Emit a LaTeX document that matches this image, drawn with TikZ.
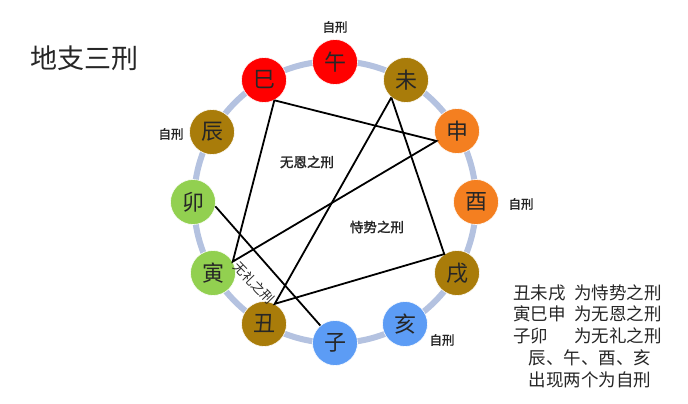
\documentclass[tikz,border=0pt]{standalone}
\usepackage{fontspec}
\newfontfamily\cjk{Noto Sans CJK SC}
\newfontfamily\cjkb[FakeBold=1.8]{Noto Sans CJK SC}
\definecolor{cred}{HTML}{FF0000}
\definecolor{cgold}{HTML}{A97C0A}
\definecolor{corange}{HTML}{F47F20}
\definecolor{cgreen}{HTML}{92D050}
\definecolor{cblue}{HTML}{5C9CF5}
\definecolor{cring}{HTML}{B4C2E0}
\begin{document}
\begin{tikzpicture}[x=1pt,y=-1pt,
  br/.style={circle,minimum size=45pt,inner sep=0pt,draw=white,line width=0.6pt,font=\cjk\fontsize{22}{22}\selectfont,text=black!85},
  ring/.style={draw=cring,line width=6pt},
  link/.style={draw=black,line width=1.8pt},
  lab/.style={font=\cjkb\fontsize{12.5}{12.5}\selectfont,text=black!85,inner sep=0pt},
  ilab/.style={font=\cjkb\fontsize{13.5}{13.5}\selectfont,text=black!85,inner sep=0pt},
  rtext/.style={font=\cjk\fontsize{17.5}{17.5}\selectfont,text=black!85,inner sep=0pt,anchor=west}]
\useasboundingbox (0,0) rectangle (688,404);
\fill[white] (0,0) rectangle (688,404);
\coordinate (c) at (335,202);
\draw[ring] (c) circle (141);
\node[br,fill=cred] (wu) at (335,62) {午};
\node[br,fill=cgold] (wei) at (406,80) {未};
\node[br,fill=corange] (shen) at (457,131) {申};
\node[br,fill=corange] (you) at (476,202) {酉};
\node[br,fill=cgold] (xu) at (457,273) {戌};
\node[br,fill=cblue] (hai) at (405,324) {亥};
\node[br,fill=cblue] (zi) at (335,343) {子};
\node[br,fill=cgold] (chou) at (264,324) {丑};
\node[br,fill=cgreen] (yin) at (213,273) {寅};
\node[br,fill=cgreen] (mao) at (193,202) {卯};
\node[br,fill=cgold] (chen) at (212,132) {辰};
\node[br,fill=cred] (si) at (264,80) {巳};
% 寅巳申
\draw[link] (si.-63) -- (yin.30) -- (shen.206) -- (si.-63);
% 丑未戌
\draw[link] (wei.230) -- (chou.62) -- (xu.124) -- (wei.230);
% 子卯
\draw[link] (mao.-11) -- (zi.130);
\node[lab] (l1) at (335,27) {自刑};
\node[lab] (l2) at (171,134) {自刑};
\node[lab] (l3) at (521,204) {自刑};
\node[lab] (l4) at (442,340) {自刑};
\node[ilab] (wuen) at (307,162) {无恩之刑};
\node[ilab] (shishi) at (377,227) {恃势之刑};
\node[font=\cjk\fontsize{13}{13}\selectfont,text=black!85,inner sep=0pt,rotate=-46] (wuli) at (254,283) {无礼之刑};
\node[font=\cjk\fontsize{27}{27}\selectfont,text=black!85,inner sep=0pt,anchor=west] (title) at (30,58) {地支三刑};
\node[rtext] (r1) at (513,293) {丑未戌\hspace{0.5em}为恃势之刑};
\node[rtext] (r2) at (513,314) {寅巳申\hspace{0.5em}为无恩之刑};
\node[rtext] (r3) at (513,336) {子卯\hspace{1.5em}为无礼之刑};
\node[rtext,anchor=center] (r4) at (590,358) {辰、午、酉、亥};
\node[rtext,anchor=center] (r5) at (590,380) {出现两个为自刑};
\end{tikzpicture}
\end{document}
